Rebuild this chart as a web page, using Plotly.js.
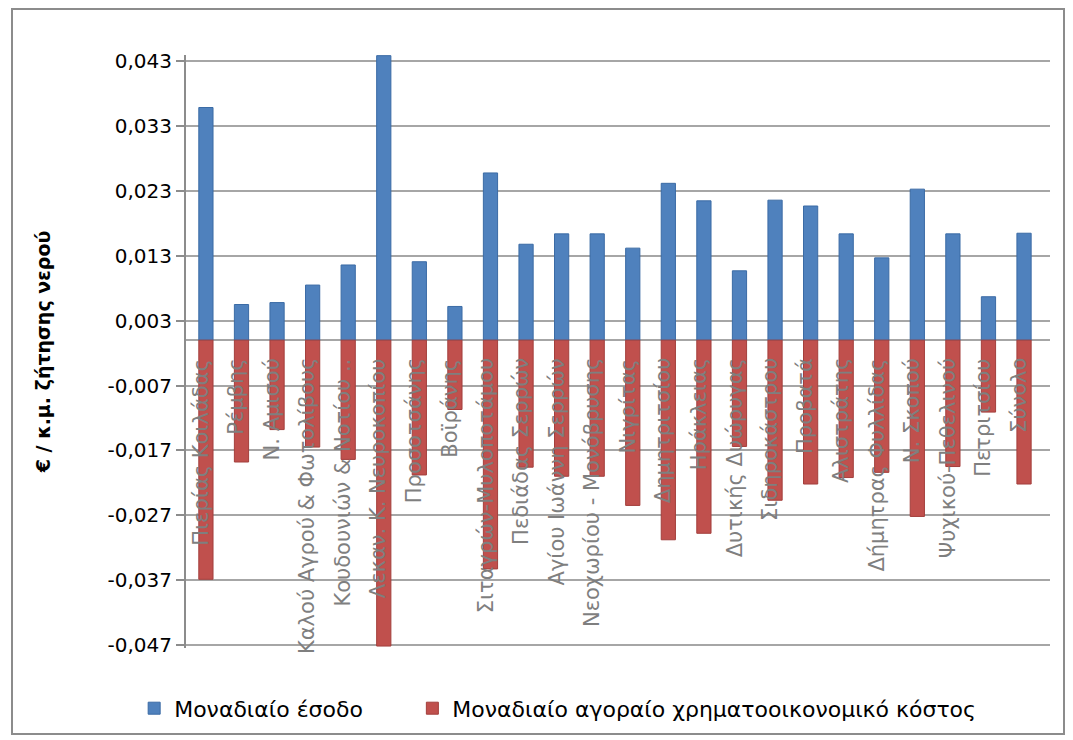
<!DOCTYPE html>
<html>
<head>
<meta charset="utf-8">
<script src="https://cdn.plot.ly/plotly-3.0.1.min.js"></script>
<style>
  html, body { margin: 0; padding: 0; background: #fff; }
  #wrap { position: relative; width: 1073px; height: 740px; }
  #chart { width: 1073px; height: 740px; }
  #frame { position: absolute; left: 11px; top: 8px; width: 1054px; height: 727px;
           border: 2px solid #8c8c8c; pointer-events: none; box-sizing: border-box; }
</style>
</head>
<body>
<div id="wrap">
  <div id="chart"></div>
  <div id="frame"></div>
</div>
<script>
const categories = [
  "Πιερίας Κοιλάδας", "Ρέμβης", "Ν. Αμισού", "Καλού Αγρού & Φωτολίβους",
  "Κουδουνιών & Νοτίου ..", "Λεκαν. Κ. Νευροκοπίου", "Προσοτσάνης", "Βοϊράνης",
  "Σιταγρών-Μυλοποτάμου", "Πεδιάδας Σερρών", "Αγίου Ιωάννη Σερρών", "Νεοχωρίου - Μονόβρυσης",
  "Νιγρίτας", "Δημητριτσίου", "Ηράκλειας", "Δυτικής Δυώρυγας",
  "Σιδηροκάστρου", "Προβατά", "Αλιστράτης", "Δήμητρας Φυλλίδας",
  "Ν. Σκοπού", "Ψυχικού-Πεθελινού", "Πετριτσίου", "Σύνολο"
];
const unitRevenue = [
  0.0359, 0.0055, 0.0058, 0.0085,
  0.0116, 0.0439, 0.0121, 0.0052,
  0.0258, 0.0148, 0.0164, 0.0164,
  0.0142, 0.0242, 0.0215, 0.0107,
  0.0216, 0.0207, 0.0164, 0.0127,
  0.0233, 0.0164, 0.0067, 0.0165
];
const unitCost = [
  -0.0369, -0.0188, -0.0138, -0.0165,
  -0.0184, -0.0472, -0.0208, -0.0107,
  -0.0353, -0.0196, -0.0210, -0.0210,
  -0.0255, -0.0308, -0.0298, -0.0164,
  -0.0247, -0.0222, -0.0212, -0.0204,
  -0.0272, -0.0195, -0.0111, -0.0222
];
const seriesNames = ["Μοναδιαίο έσοδο", "Μοναδιαίο αγοραίο χρηματοοικονομικό κόστος"];
const tickValues = [0.043, 0.033, 0.023, 0.013, 0.003, -0.007, -0.017, -0.027, -0.037, -0.047];
const tickLabels = tickValues.map(v => v.toFixed(3).replace(".", ","));
const yTitle = "€ / κ.μ. ζήτησης νερού";

const FONT = "DejaVu Sans, Liberation Sans, sans-serif";

const traces = [
  { type: "bar", name: seriesNames[0], x: categories, y: unitRevenue, width: 0.4, legend: "legend",
    marker: { color: "#4F81BD", line: { color: "#3B6BA5", width: 1 } }, hoverinfo: "x+y" },
  { type: "bar", name: seriesNames[1], x: categories, y: unitCost, width: 0.4, legend: "legend2",
    marker: { color: "#C0504D", line: { color: "#A33F3C", width: 1 } }, hoverinfo: "x+y" }
];

const annotations = categories.map(c => ({
  x: c, y: -0.0025, xref: "x", yref: "y", text: c, showarrow: false,
  textangle: -90, xanchor: "center", yanchor: "top", xshift: -5,
  font: { family: FONT, size: 21, color: "#7f7f7f" }
}));

const legendFont = { family: FONT, size: 22, color: "#000" };

const layout = {
  width: 1073, height: 740,
  margin: { l: 186, r: 23, t: 55, b: 91 },
  paper_bgcolor: "#ffffff", plot_bgcolor: "#ffffff",
  barmode: "overlay",
  showlegend: true,
  legend: { orientation: "h", x: -0.06, xanchor: "left", y: -0.1, yanchor: "middle",
            font: legendFont, itemwidth: 30 },
  legend2: { orientation: "h", x: 0.262, xanchor: "left", y: -0.1, yanchor: "middle",
             font: legendFont, itemwidth: 30 },
  xaxis: { type: "category", range: [-0.56, 23.73], showticklabels: false, showgrid: false,
           zeroline: false, showline: false, ticks: "" },
  yaxis: { range: [-0.0475, 0.044], tickvals: tickValues, ticktext: tickLabels,
           showgrid: true, gridcolor: "#a6a6a6", gridwidth: 2,
           zeroline: true, zerolinecolor: "#a6a6a6", zerolinewidth: 2,
           showline: true, linecolor: "#8c8c8c", linewidth: 2,
           ticks: "outside", ticklen: 8, tickcolor: "#8c8c8c", tickwidth: 2,
           tickfont: { family: FONT, size: 20, color: "#000" },
           title: { text: yTitle, standoff: 52, font: { family: FONT, size: 19, color: "#000", weight: "bold" } } },
  annotations: annotations
};

Plotly.newPlot("chart", traces, layout, { displayModeBar: false, staticPlot: true });
</script>
</body>
</html>
